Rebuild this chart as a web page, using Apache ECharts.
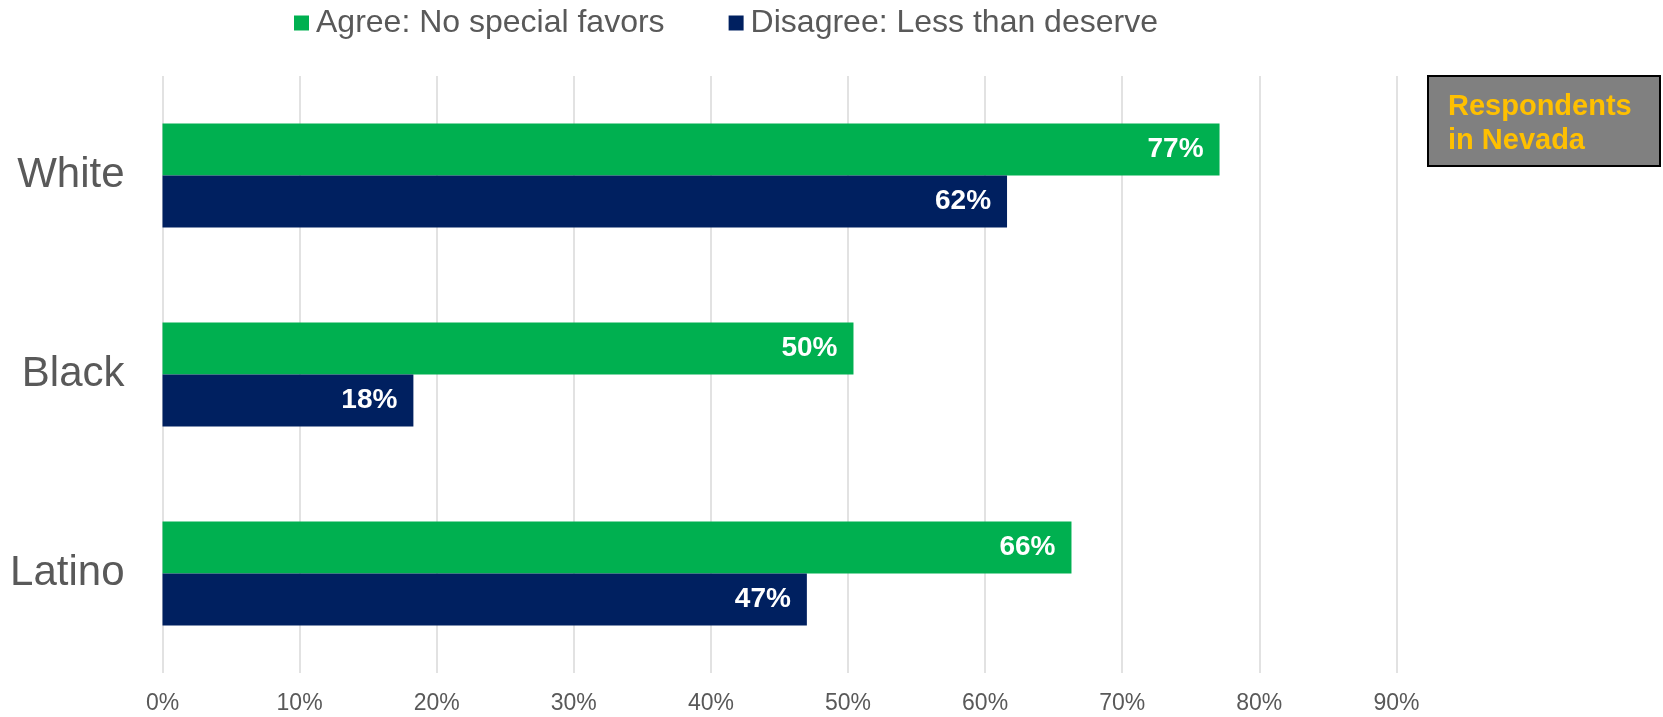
<!DOCTYPE html>
<html>
<head>
<meta charset="utf-8">
<script src="https://cdn.jsdelivr.net/npm/echarts@6/dist/echarts.min.js"></script>
<style>
html,body{margin:0;padding:0;background:#fff;}
#chart{width:1663px;height:717px;}
</style>
</head>
<body>
<div id="chart"></div>
<script>
var categories = ['White', 'Black', 'Latino'];
var seriesNames = ['Agree: No special favors', 'Disagree: Less than deserve'];
var agreeValues = [77.1, 50.4, 66.3];
var disagreeValues = [61.6, 18.3, 47.0];
var tickValues = [0, 10, 20, 30, 40, 50, 60, 70, 80, 90];
var boxLines = ['Respondents', 'in Nevada'];

var FONT = '"Liberation Sans", Arial, sans-serif';
var chart = echarts.init(document.getElementById('chart'));

function labelCfg() {
  return {
    show: true,
    position: 'insideRight',
    distance: 16,
    color: '#ffffff',
    fontWeight: 'bold',
    fontSize: 28,
    fontFamily: FONT,
    formatter: function (p) { return Math.round(p.value) + '%'; }
  };
}

var option = {
  animation: false,
  backgroundColor: '#ffffff',
  legend: {
    data: seriesNames,
    left: 289,
    top: 1,
    itemWidth: 15,
    itemHeight: 15,
    itemGap: 64,
    icon: 'rect',
    textStyle: { color: '#595959', fontSize: 32, fontFamily: FONT, lineHeight: 34, padding: [0, 0, 0, 2] }
  },
  grid: { left: 162.5, right: 129.5, top: 76, bottom: 44, containLabel: false },
  xAxis: {
    type: 'value',
    min: 0,
    max: 100,
    interval: 10,
    axisLine: { show: false },
    axisTick: { show: false },
    axisLabel: {
      color: '#595959',
      fontSize: 23,
      fontFamily: FONT,
      margin: 19,
      showMaxLabel: false,
      formatter: function (v) { return tickValues.indexOf(v) >= 0 ? v + '%' : ''; }
    },
    splitLine: { show: true, showMinLine: true, showMaxLine: false, lineStyle: { color: '#d9d9d9', width: 1.5 } }
  },
  yAxis: {
    type: 'category',
    data: categories,
    inverse: true,
    axisLine: { show: false },
    axisTick: { show: false },
    axisLabel: { color: '#595959', fontSize: 42, fontFamily: FONT, margin: 38 }
  },
  series: [
    {
      name: seriesNames[0],
      type: 'bar',
      data: agreeValues,
      barWidth: 52,
      barGap: '0%',
      itemStyle: { color: '#00B050' },
      label: labelCfg()
    },
    {
      name: seriesNames[1],
      type: 'bar',
      data: disagreeValues,
      barWidth: 52,
      barGap: '0%',
      itemStyle: { color: '#002060' },
      label: labelCfg()
    }
  ],
  graphic: [
    {
      type: 'group',
      left: 1427,
      top: 75,
      children: [
        {
          type: 'rect',
          shape: { x: 0, y: 0, width: 232, height: 90 },
          style: { fill: '#808080', stroke: '#000000', lineWidth: 2 }
        },
        {
          type: 'text',
          x: 20,
          y: 14,
          style: {
            text: boxLines.join('\n'),
            fill: '#FFC000',
            font: 'bold 29px ' + FONT,
            lineHeight: 34,
            verticalAlign: 'top',
            align: 'left'
          }
        }
      ]
    }
  ]
};
chart.setOption(option);
</script>
</body>
</html>
